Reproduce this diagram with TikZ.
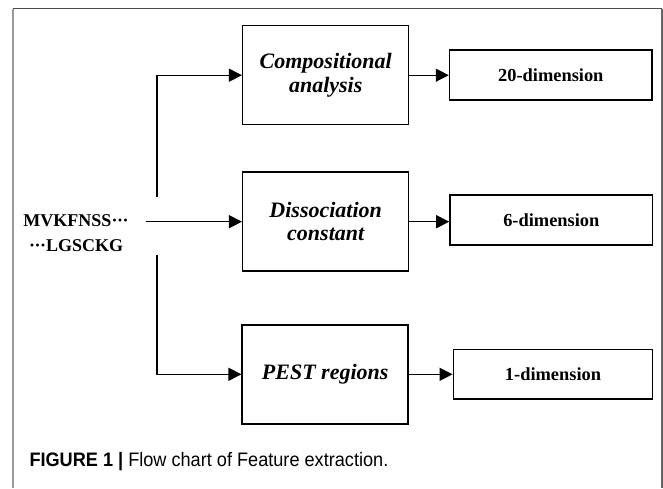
\documentclass[tikz,border=0pt]{standalone}
\usepackage{fontspec}
\setmainfont{Liberation Serif}
\newfontfamily\capfont[FakeStretch=0.93]{Liberation Sans}
\usetikzlibrary{arrows.meta}
\newcommand{\mdots}{\kern0.3pt·\kern-0.6pt·\kern-0.6pt·}
\tikzset{
  mid/.style={draw=black, line width=1.5pt, minimum width=166pt, minimum height=99pt, inner sep=0pt, align=center,
    font=\fontsize{22}{23.5}\selectfont\bfseries\itshape},
  res/.style={draw=black, line width=1.5pt, minimum height=49.7pt, inner sep=0pt,
    font=\fontsize{18.4}{20}\selectfont\bfseries},
  arr/.style={line width=1.3pt, -{Triangle[length=13pt,width=13pt]}},
}
\begin{document}
\begin{tikzpicture}[x=1pt,y=-1pt]
\useasboundingbox (0,0) rectangle (663,488);
% frame
\draw[color=black!40, line width=2pt] (12.5,8.5) -- (12.5,488);
\draw[color=black!70, line width=1.4pt] (12.5,8.5) -- (662,8.5);
\draw[color=black!60, line width=1.4pt] (662,8.5) -- (662,488);
% nodes
\node[mid] (A) at (325.7,75.2) {Compositional\\analysis};
\node[mid] (B) at (325.7,221.7) {Dissociation\\constant};
\node[mid] (C) at (325.2,374.3) {PEST regions};
\node[res, minimum width=202.5pt] (R1) at (550.8,74.9) {20-dimension};
\node[res, minimum width=202.7pt] (R2) at (551.3,220) {6-dimension};
\node[res, minimum width=199.4pt] (R3) at (553,374.2) {1-dimension};
\node[align=center, inner sep=0pt, font=\fontsize{18}{25}\selectfont\bfseries] (in) at (76,233) {MVKFNSS\mdots\\\mdots LGSCKG};
% connectors
\coordinate (vt) at (157,197);
\coordinate (vb) at (157,255);
\coordinate (s) at (146,221.7);
\draw[arr] (vt) |- (A.west);
\draw[arr] (vb) |- (C.west);
\draw[arr] (s) -- (B.west);
\draw[arr] (A.east) -- (A.east -| R1.west);
\draw[arr] (B.east) -- (B.east -| R2.west);
\draw[arr] (C.east) -- (C.east -| R3.west);
% caption
\node[anchor=base west, inner sep=0pt, font=\fontsize{19.5}{20}\selectfont\capfont] (cap) at (29.3,466.7) {\textbf{FIGURE 1 |} Flow chart of Feature extraction.};
\end{tikzpicture}
\end{document}
